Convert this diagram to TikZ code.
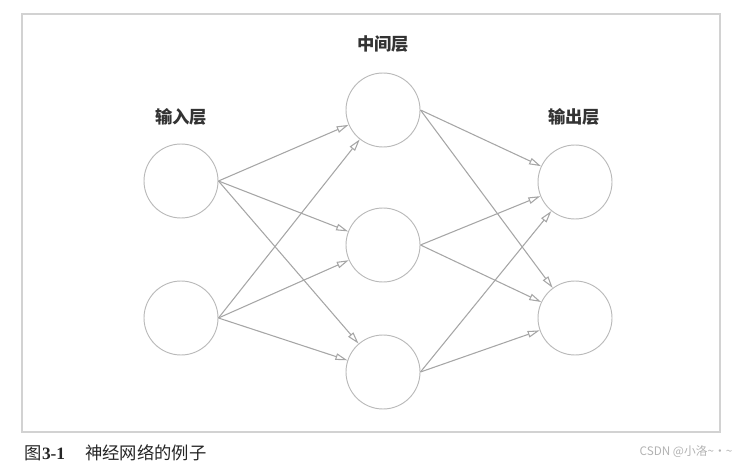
\documentclass[tikz,border=0pt]{standalone}
\usepackage{fontspec}
\newfontfamily\cjk{Noto Sans CJK SC}
\newfontfamily\numf{Liberation Serif}
\usetikzlibrary{positioning,arrows.meta}

\begin{document}
\begin{tikzpicture}[x=0.75pt,y=-0.75pt,
    neu/.style={circle,draw=gray!55,line width=0.7pt,minimum size=55.5pt,inner sep=0pt},
    lay/.style={font=\cjk\fontsize{13}{15}\selectfont\bfseries,text=black!80},
    con/.style={draw=gray!70,line width=0.8pt,-{Triangle[open,length=9pt,width=5pt]}}]

\useasboundingbox (0,0) rectangle (741,466);
\draw[gray!35,line width=0.8pt] (22,14) rectangle (720,432);

% input layer
\node[neu] (i1) at (181,181) {};
\node[neu] (i2) at (181,318) {};
\node[lay] (lin) at (181,117) {输入层};

% hidden layer
\node[neu] (h1) at (383,110) {};
\node[neu] (h2) at (383,245) {};
\node[neu] (h3) at (383,372) {};
\node[lay] (lmid) at (383,44) {中间层};

% output layer
\node[neu] (o1) at (575,182) {};
\node[neu] (o2) at (575,318) {};
\node[lay] (lout) at (574,117) {输出层};

\draw[con] (i1.east) -- (h1);
\draw[con] (i1.east) -- (h2);
\draw[con] (i1.east) -- (h3);
\draw[con] (i2.east) -- (h1);
\draw[con] (i2.east) -- (h2);
\draw[con] (i2.east) -- (h3);

\draw[con] (h1.east) -- (o1);
\draw[con] (h1.east) -- (o2);
\draw[con] (h2.east) -- (o1);
\draw[con] (h2.east) -- (o2);
\draw[con] (h3.east) -- (o1);
\draw[con] (h3.east) -- (o2);

\node[anchor=west,font=\cjk\fontsize{13}{15}\selectfont,text=black!85] (cap) at (20,453)
    {图{\numf\bfseries 3-1}\hspace{15pt}神经网络的例子};
\node[anchor=east,font=\cjk\fontsize{8.8}{10}\selectfont,text=gray!60] (mark) at (737,452)
    {CSDN @小洛\textasciitilde·\textasciitilde};

\end{tikzpicture}
\end{document}
